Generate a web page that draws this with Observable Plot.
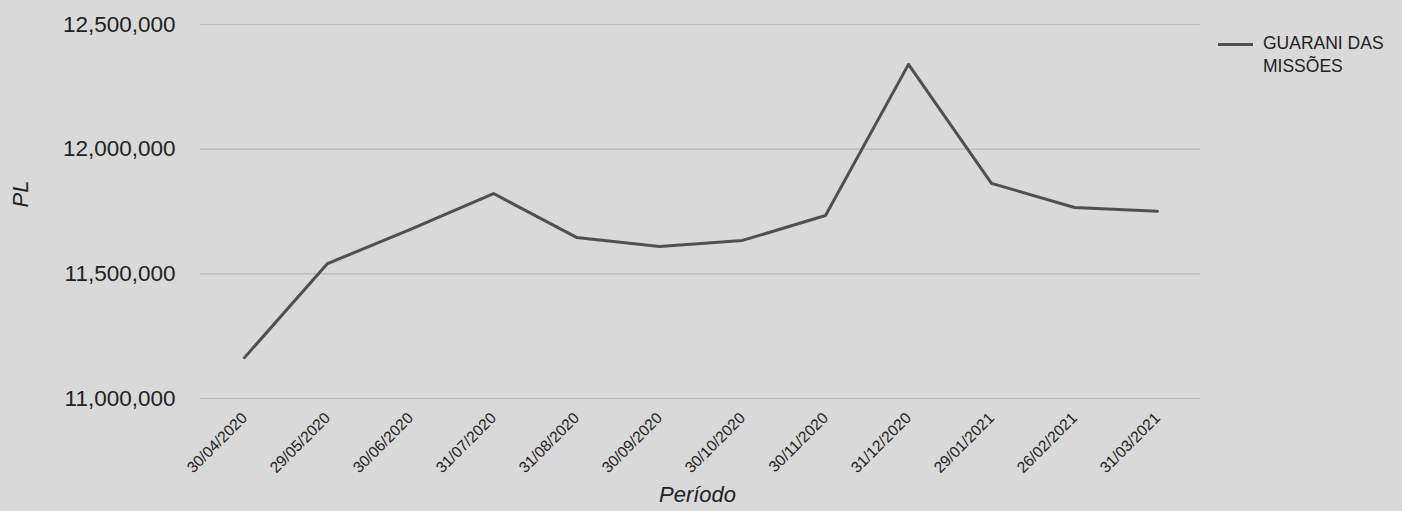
<!DOCTYPE html>
<html><head><meta charset="utf-8">
<script src="https://cdn.jsdelivr.net/npm/d3@7"></script>
<script src="https://cdn.jsdelivr.net/npm/@observablehq/plot@0.6"></script>
<style>
html,body{margin:0;padding:0;background:#d9d9d9;}
#wrap{position:relative;width:1402px;height:511px;font-family:"Liberation Sans",Arial,sans-serif;color:#222;}
#legend{position:absolute;left:1218px;top:32px;display:flex;align-items:flex-start;}
#legend .sw{width:35px;height:3px;background:#505050;margin-top:11px;margin-right:10px;}
#legend .lb{font-size:17.5px;line-height:23px;color:#222;}
</style></head><body><div id="wrap"></div>
<script>
const periods = ["30/04/2020","29/05/2020","30/06/2020","31/07/2020","31/08/2020","30/09/2020","30/10/2020","30/11/2020","31/12/2020","29/01/2021","26/02/2021","31/03/2021"];
const values = [11164000,11541000,11678000,11822000,11646000,11610000,11634000,11734000,12340000,11863000,11766000,11751000];
const yTicks = [11000000,11500000,12000000,12500000];
const seriesName = ["GUARANI DAS", "MISSÕES"];
const xTitle = "Período";
const yTitle = "PL";

const data = periods.map((p,i)=>({periodo:p, pl:values[i]}));
const fmt = d3.format(",");
const chart = Plot.plot({
  width:1402, height:511,
  marginLeft:200, marginRight:202, marginTop:19, marginBottom:108,
  style:{background:"transparent", fontFamily:"'Liberation Sans', Arial, sans-serif", color:"#222", overflow:"visible"},
  x:{type:"point", domain:periods, padding:0.5, label:null},
  y:{domain:[10980000,12520000], label:null},
  marks:[
    Plot.gridY(yTicks,{stroke:"#9a9a9a", strokeOpacity:0.5, strokeWidth:1.2}),
    Plot.axisY(yTicks,{tickSize:0, tickPadding:25, tickFormat:fmt, fontSize:22.5, label:null}),
    Plot.axisX({tickSize:0, tickRotate:-45, tickPadding:12, fontSize:15.5, label:null}),
    Plot.line(data,{x:"periodo", y:"pl", stroke:"#505050", strokeWidth:3}),
    Plot.text([xTitle],{frameAnchor:"bottom", dy:98, dx:-3, fontSize:22, fontStyle:"italic", text:d=>d, fill:"#222"}),
    Plot.text([yTitle],{frameAnchor:"left", dx:-180, dy:-4, rotate:-90, fontSize:22, fontStyle:"italic", text:d=>d, fill:"#222"})
  ]
});
const wrap = document.getElementById("wrap");
wrap.appendChild(chart);
const lg = document.createElement("div");
lg.id = "legend";
lg.innerHTML = `<div class="sw"></div><div class="lb">${seriesName.join("<br>")}</div>`;
wrap.appendChild(lg);
</script></body></html>
